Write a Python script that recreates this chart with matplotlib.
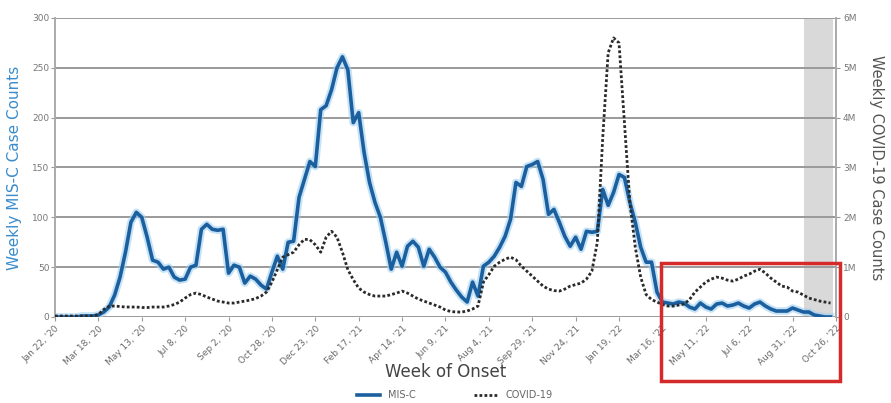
import matplotlib
matplotlib.use("Agg")
import matplotlib.pyplot as plt
from matplotlib.patches import Rectangle
import numpy as np

# ---- data (week index 0 = Jan 22, 2020) ----
misc_cases = [
    0, 0, 0, 0, 0, 1, 1, 1, 2, 5,
    10, 22, 40, 65, 95, 105, 100, 80, 57, 55,
    48, 50, 40, 37, 38, 50, 52, 88, 93, 88,
    87, 88, 44, 52, 50, 34, 41, 38, 32, 28,
    45, 61, 48, 75, 76, 120, 138, 156, 151, 208,
    212, 228, 250, 261, 248, 195, 205, 165, 135, 115,
    100, 75, 48, 65, 51, 71, 76, 70, 51, 68,
    60, 50, 45, 35, 27, 20, 15, 35, 21, 51,
    55, 61, 70, 81, 98, 135, 131, 151, 153, 156,
    138, 103, 108, 95, 81, 71, 80, 68, 86, 85,
    86, 128, 112, 125, 143, 140, 115, 95, 70, 55,
    55, 25, 15, 14, 13, 15, 14, 10, 8, 14,
    10, 8, 13, 14, 11, 12, 14, 11, 9, 13,
    15, 11, 8, 6, 6, 6, 9, 7, 5, 5,
    2, 1, 0, 0,
]

covid_cases_m = [
    0.02, 0.02, 0.02, 0.02, 0.02, 0.02, 0.02, 0.02, 0.05, 0.15,
    0.22, 0.22, 0.21, 0.20, 0.20, 0.20, 0.19, 0.19, 0.20, 0.20,
    0.20, 0.22, 0.25, 0.30, 0.38, 0.45, 0.48, 0.45, 0.40, 0.36,
    0.32, 0.30, 0.28, 0.28, 0.30, 0.32, 0.34, 0.37, 0.42, 0.50,
    0.70, 0.95, 1.20, 1.25, 1.30, 1.45, 1.56, 1.55, 1.45, 1.30,
    1.60, 1.72, 1.60, 1.30, 0.95, 0.75, 0.58, 0.50, 0.45, 0.42,
    0.42, 0.42, 0.45, 0.48, 0.52, 0.48, 0.42, 0.36, 0.32, 0.28,
    0.24, 0.20, 0.14, 0.11, 0.10, 0.10, 0.12, 0.16, 0.22, 0.70,
    0.85, 1.02, 1.10, 1.16, 1.20, 1.15, 1.02, 0.92, 0.82, 0.72,
    0.62, 0.56, 0.53, 0.52, 0.56, 0.62, 0.65, 0.68, 0.76, 0.92,
    1.50, 3.60, 5.30, 5.60, 5.50, 3.90, 2.30, 1.40, 0.80, 0.45,
    0.35, 0.30, 0.25, 0.22, 0.22, 0.24, 0.26, 0.35, 0.50, 0.60,
    0.70, 0.76, 0.80, 0.78, 0.74, 0.72, 0.76, 0.82, 0.86, 0.92,
    0.96, 0.88, 0.78, 0.70, 0.62, 0.60, 0.52, 0.50, 0.44, 0.38,
    0.35, 0.32, 0.30, 0.28,
]

tick_weeks = list(range(0, 145, 8))
tick_labels = ["Jan 22, '20", "Mar 18, '20", "May 13, '20", "Jul 8, '20",
               "Sep 2, '20", "Oct 28, '20", "Dec 23, '20", "Feb 17, '21",
               "Apr 14, '21", "Jun 9, '21", "Aug 4, '21", "Sep 29, '21",
               "Nov 24, '21", "Jan 19, '22", "Mar 16, '22", "May 11, '22",
               "Jul 6, '22", "Aug 31, '22", "Oct 26, '22"]
left_ticks = [0, 50, 100, 150, 200, 250, 300]
right_ticks = [0, 1, 2, 3, 4, 5, 6]
right_tick_labels = ["0", "1M", "2M", "3M", "4M", "5M", "6M"]
pending_start, pending_end = 138.2, 143.4

weeks = np.arange(len(misc_cases))

# ---- figure ----
fig = plt.figure(figsize=(8.91, 4.03), dpi=100)
ax = fig.add_axes([0.0617, 0.2134, 0.8765, 0.742])
ax2 = ax.twinx()

ax.axvspan(pending_start, pending_end, color="#d9d9d9", lw=0, zorder=0)
for t in left_ticks:
    ax.axhline(t, color="#9a9a9a", lw=1.4, zorder=1)

# glow under MIS-C line
ax.plot(weeks, misc_cases, color="#9fd0f0", lw=5.5, alpha=0.6, zorder=3,
        solid_joinstyle="round")
l1, = ax.plot(weeks, misc_cases, color="#1b5f9f", lw=2.6, zorder=4,
              solid_joinstyle="round", label="MIS-C")
l2, = ax2.plot(weeks, covid_cases_m, color="#2a2a2a", lw=2.0,
               linestyle=(0, (1, 0.8)), zorder=5, label="COVID-19")

ax.set_xlim(0, 144)
ax.set_ylim(0, 300)
ax2.set_ylim(0, 6)

ax.set_xticks(tick_weeks)
ax.set_xticklabels(tick_labels, rotation=45, ha="right",
                   rotation_mode="anchor", fontsize=6.5, color="#6a6a6a")
ax.set_yticks(left_ticks)
ax.set_yticklabels([str(t) for t in left_ticks], fontsize=6.5, color="#777777")
ax2.set_yticks(right_ticks)
ax2.set_yticklabels(right_tick_labels, fontsize=6.5, color="#777777")

ax.tick_params(axis="x", length=3, color="#999999", pad=2)
ax.tick_params(axis="y", length=3, color="#999999", pad=1)
ax2.tick_params(axis="y", length=3, color="#999999", pad=2)

for a in (ax, ax2):
    for s in ("top", "bottom"):
        a.spines[s].set_visible(False)
    a.spines["left"].set_color("#aaaaaa")
    a.spines["right"].set_color("#aaaaaa")
    a.spines["left"].set_linewidth(1.2)
    a.spines["right"].set_linewidth(1.2)

ax.set_ylabel("Weekly MIS-C Case Counts", color="#3a8ccc", fontsize=11,
              labelpad=7)
ax2.set_ylabel("Weekly COVID-19 Case Counts", color="#555555", fontsize=10.5,
               rotation=270, labelpad=20)
ax.set_xlabel("Week of Onset", color="#444444", fontsize=12, labelpad=-3)

fig.legend(handles=[l1, l2], labels=["MIS-C", "COVID-19"], loc="lower center",
           bbox_to_anchor=(0.51, -0.015), ncol=2, frameon=False, fontsize=7,
           handlelength=2.4, columnspacing=6, labelcolor="#666666")

# red highlight box (figure annotation)
fig.patches.append(Rectangle((661 / 891, 1 - 381 / 403), (840 - 661) / 891,
                             (381 - 263) / 403, transform=fig.transFigure,
                             fill=False, edgecolor="#d42a2a", lw=2.5,
                             zorder=10))

fig.savefig("out.png", dpi=100)
